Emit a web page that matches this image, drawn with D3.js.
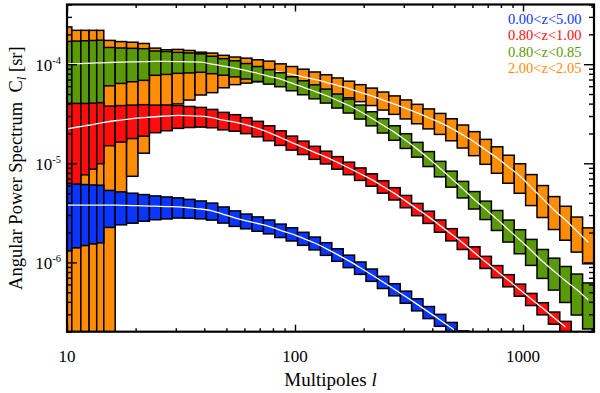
<!DOCTYPE html>
<html><head><meta charset="utf-8">
<script src="https://cdn.jsdelivr.net/npm/d3@7"></script>
<style>
body{margin:0;background:#fff}
text{font-family:"Liberation Serif","Times New Roman",Times,serif}
</style>
</head><body>
<svg id="chart" width="600" height="393" font-family="Liberation Serif, Times New Roman, serif"></svg>
<script>
// ---------- data ----------
const binEdges = [9.5, 10.5, 11.5, 12.5, 13.5, 14.5, 16.27, 18.25, 20.48, 22.98, 25.78, 28.93, 32.46, 36.42, 40.87, 45.85, 51.45, 57.72, 64.77, 72.67, 81.54, 91.49, 102.65, 115.18, 129.23, 145.0, 162.7, 182.5, 204.8, 229.8, 257.8, 289.3, 324.6, 364.2, 408.7, 458.5, 514.5, 577.2, 647.7, 726.7, 815.4, 914.9, 1026.5, 1151.8, 1292.3, 1450, 1627, 1825, 2048];

const seriesLabels = ["0.00<z<5.00", "0.80<z<1.00", "0.80<z<0.85", "2.00<z<2.05"];

const clBlue = [3.79e-6, 3.79e-6, 3.79e-6, 3.79e-6, 3.79e-6, 3.79e-6, 3.77e-6, 3.74e-6, 3.72e-6, 3.69e-6, 3.66e-6, 3.64e-6, 3.56e-6, 3.46e-6, 3.32e-6, 3.06e-6, 2.81e-6, 2.63e-6, 2.47e-6, 2.31e-6, 2.11e-6, 1.94e-6, 1.75e-6, 1.57e-6, 1.38e-6, 1.20e-6, 1.035e-6, 8.84e-7, 7.51e-7, 6.35e-7, 5.35e-7, 4.50e-7, 3.77e-7, 3.15e-7, 2.63e-7, 2.18e-7, 1.79e-7];
const errBlue = [0.655, 0.63, 0.61, 0.595, 0.585, 0.405, 0.365, 0.335, 0.30, 0.27, 0.25, 0.23, 0.215, 0.205, 0.195, 0.185, 0.178, 0.17, 0.165, 0.16, 0.155, 0.152, 0.15, 0.148, 0.146, 0.145, 0.144, 0.143, 0.142, 0.141, 0.14, 0.14, 0.139, 0.139, 0.138, 0.138, 0.138];

const clRed = [2.22e-5, 2.31e-5, 2.39e-5, 2.46e-5, 2.54e-5, 2.64e-5, 2.73e-5, 2.82e-5, 2.89e-5, 2.95e-5, 3.00e-5, 3.04e-5, 3.02e-5, 2.99e-5, 2.89e-5, 2.72e-5, 2.60e-5, 2.44e-5, 2.25e-5, 2.04e-5, 1.82e-5, 1.62e-5, 1.45e-5, 1.29e-5, 1.155e-5, 1.02e-5, 8.97e-6, 7.85e-6, 6.85e-6, 5.83e-6, 4.97e-6, 4.15e-6, 3.45e-6, 2.88e-6, 2.35e-6, 1.92e-6, 1.57e-6, 1.26e-6, 1.01e-6, 8.15e-7, 6.60e-7, 5.30e-7, 4.27e-7, 3.44e-7, 2.77e-7, 2.23e-7];
const errRed = [0.815, 0.74, 0.68, 0.645, 0.61, 0.43, 0.40, 0.37, 0.35, 0.31, 0.29, 0.26, 0.24, 0.225, 0.21, 0.20, 0.19, 0.184, 0.178, 0.172, 0.167, 0.161, 0.155, 0.150, 0.147, 0.145, 0.144, 0.144, 0.143, 0.143, 0.142, 0.142, 0.142, 0.141, 0.141, 0.141, 0.140, 0.140, 0.140, 0.140, 0.140, 0.140, 0.140, 0.140, 0.140, 0.140];

const clGreen = [1.005e-4, 1.012e-4, 1.019e-4, 1.026e-4, 1.033e-4, 1.040e-4, 1.048e-4, 1.055e-4, 1.060e-4, 1.065e-4, 1.065e-4, 1.062e-4, 1.057e-4, 1.050e-4, 1.002e-4, 9.55e-5, 9.13e-5, 8.62e-5, 8.08e-5, 7.55e-5, 7.06e-5, 6.43e-5, 5.86e-5, 5.33e-5, 4.83e-5, 4.30e-5, 3.83e-5, 3.33e-5, 2.85e-5, 2.42e-5, 2.05e-5, 1.70e-5, 1.39e-5, 1.12e-5, 8.88e-6, 7.04e-6, 5.52e-6, 4.32e-6, 3.43e-6, 2.72e-6, 2.14e-6, 1.68e-6, 1.32e-6, 1.02e-6, 8.15e-7, 6.52e-7, 5.29e-7, 4.17e-7];
const errGreen = [0.69, 0.69, 0.69, 0.69, 0.69, 0.418, 0.39, 0.37, 0.352, 0.275, 0.26, 0.239, 0.228, 0.211, 0.200, 0.190, 0.184, 0.178, 0.172, 0.167, 0.161, 0.161, 0.161, 0.161, 0.161, 0.161, 0.161, 0.161, 0.163, 0.165, 0.167, 0.169, 0.170, 0.172, 0.178, 0.184, 0.190, 0.200, 0.211, 0.228, 0.250, 0.272, 0.293, 0.324, 0.355, 0.395, 0.443, 0.489];

const clOrange = [8.64e-5, 8.64e-5, 8.64e-5, 8.64e-5, 8.64e-5, 8.64e-5, 8.66e-5, 8.70e-5, 8.72e-5, 8.80e-5, 8.90e-5, 9.03e-5, 9.05e-5, 9.05e-5, 9.05e-5, 9.03e-5, 9.01e-5, 8.97e-5, 8.86e-5, 8.74e-5, 8.32e-5, 7.89e-5, 7.45e-5, 7.01e-5, 6.57e-5, 6.10e-5, 5.66e-5, 5.20e-5, 4.78e-5, 4.34e-5, 3.95e-5, 3.58e-5, 3.22e-5, 2.88e-5, 2.57e-5, 2.25e-5, 1.93e-5, 1.64e-5, 1.36e-5, 1.13e-5, 9.18e-6, 7.44e-6, 5.72e-6, 4.40e-6, 3.38e-6, 2.68e-6, 2.07e-6, 1.60e-6];
const errOrange = [1.75, 1.54, 1.54, 1.54, 1.54, 1.01, 0.952, 0.915, 0.855, 0.65, 0.57, 0.56, 0.52, 0.46, 0.43, 0.36, 0.31, 0.282, 0.25, 0.228, 0.211, 0.2, 0.195, 0.19, 0.19, 0.19, 0.19, 0.195, 0.2, 0.206, 0.211, 0.217, 0.222, 0.228, 0.239, 0.25, 0.261, 0.272, 0.282, 0.298, 0.314, 0.33, 0.345, 0.355, 0.365, 0.375, 0.386, 0.395];

const xMajorTicks = [10, 100, 1000];
const xTickLabels = ["10", "100", "1000"];
const yMajorTicks = [1e-6, 1e-5, 1e-4];
const yTickExponents = ["-6", "-5", "-4"];

const colors = {blue: "#0a35ff", red: "#ff0d0d", green: "#5a9a08", orange: "#ff8c05"};

// ---------- layout ----------
const L = 67, R = 594, T = 4.5, B = 331.7;
const FONT = "Liberation Serif, Times New Roman, serif";
const svg = d3.select("#chart");
const x = d3.scaleLog().domain([10, 2048]).range([L, R]);
const y = d3.scaleLog().domain([2e-7, 4e-4]).range([B, T]);

svg.append("defs").append("clipPath").attr("id", "plotclip")
  .append("rect").attr("x", L).attr("y", T).attr("width", R - L).attr("height", B - T);

const plot = svg.append("g").attr("clip-path", "url(#plotclip)");

const series = [
  {cl: clOrange, err: errOrange, color: colors.orange},
  {cl: clGreen, err: errGreen, color: colors.green},
  {cl: clRed, err: errRed, color: colors.red},
  {cl: clBlue, err: errBlue, color: colors.blue}
];

const floorVal = 1e-8;
series.forEach(s => {
  const g = plot.append("g");
  const bins = s.cl.map((c, i) => ({
    lo: binEdges[i], hi: binEdges[i + 1], c: c, e: s.err[i]
  }));
  g.selectAll("rect").data(bins).enter().append("rect")
    .attr("x", d => x(Math.max(d.lo, 10)))
    .attr("width", d => x(Math.min(d.hi, 2048)) - x(Math.max(d.lo, 10)))
    .attr("y", d => y(d.c * (1 + d.e)))
    .attr("height", d => y(Math.max(d.c * (1 - d.e), floorVal)) - y(d.c * (1 + d.e)))
    .attr("fill", s.color)
    .attr("stroke", "#000")
    .attr("stroke-width", 1.5);
  const line = d3.line()
    .x(d => x(Math.sqrt(d.lo * d.hi)))
    .y(d => y(d.c))
    .curve(d3.curveMonotoneX);
  g.append("path").datum(bins).attr("d", line)
    .attr("fill", "none").attr("stroke", "#fff").attr("stroke-width", 1.3);
});

// ---------- axes ----------
const minorX = x.ticks().filter(v => xMajorTicks.indexOf(v) < 0);
const minorY = y.ticks().filter(v => !yMajorTicks.some(m => Math.abs(m - v) / m < 1e-6));

function styleAxis(g) {
  g.select(".domain").remove();
  g.selectAll(".tick line").attr("stroke", "#000").attr("stroke-width", 1.4);
  g.selectAll(".tick text").remove();
}
svg.append("g").attr("transform", `translate(0,${B})`)
  .call(d3.axisBottom(x).tickValues(xMajorTicks).tickSize(-7).tickFormat("")).call(styleAxis);
svg.append("g").attr("transform", `translate(0,${B})`)
  .call(d3.axisBottom(x).tickValues(minorX).tickSize(-3.5).tickFormat("")).call(styleAxis);
svg.append("g").attr("transform", `translate(0,${T})`)
  .call(d3.axisTop(x).tickValues(xMajorTicks).tickSize(-7).tickFormat("")).call(styleAxis);
svg.append("g").attr("transform", `translate(0,${T})`)
  .call(d3.axisTop(x).tickValues(minorX).tickSize(-3.5).tickFormat("")).call(styleAxis);
svg.append("g").attr("transform", `translate(${L},0)`)
  .call(d3.axisLeft(y).tickValues(yMajorTicks).tickSize(-10).tickFormat("")).call(styleAxis);
svg.append("g").attr("transform", `translate(${L},0)`)
  .call(d3.axisLeft(y).tickValues(minorY).tickSize(-5).tickFormat("")).call(styleAxis);
svg.append("g").attr("transform", `translate(${R},0)`)
  .call(d3.axisRight(y).tickValues(yMajorTicks).tickSize(-10).tickFormat("")).call(styleAxis);
svg.append("g").attr("transform", `translate(${R},0)`)
  .call(d3.axisRight(y).tickValues(minorY).tickSize(-5).tickFormat("")).call(styleAxis);

svg.append("rect").attr("x", L).attr("y", T).attr("width", R - L).attr("height", B - T)
  .attr("fill", "none").attr("stroke", "#000").attr("stroke-width", 2.2);

// tick labels
xMajorTicks.forEach((v, i) => {
  svg.append("text").attr("x", x(v)).attr("y", 362).attr("text-anchor", "middle")
    .attr("font-family", FONT).attr("font-size", 17).text(xTickLabels[i]);
});
yMajorTicks.forEach((v, i) => {
  const t = svg.append("text").attr("x", 61).attr("y", y(v) + 6.5).attr("text-anchor", "end")
    .attr("font-family", FONT).attr("font-size", 17);
  t.append("tspan").text("10");
  t.append("tspan").attr("font-size", 10.5).attr("dy", -7).text(yTickExponents[i]);
});

// axis titles
const xt = svg.append("text").attr("x", (L + R) / 2).attr("y", 386).attr("text-anchor", "middle")
  .attr("font-family", FONT).attr("font-size", 19);
xt.append("tspan").text("Multipoles ");
xt.append("tspan").attr("font-style", "italic").text("l");

const yt = svg.append("text").attr("transform", `translate(22,${(T + B) / 2}) rotate(-90)`)
  .attr("text-anchor", "middle").attr("font-family", FONT).attr("font-size", 18.5);
yt.append("tspan").text("Angular Power Spectrum\u00a0\u00a0C");
yt.append("tspan").attr("font-style", "italic").attr("font-size", 13).attr("dy", 4).text("l");
yt.append("tspan").attr("dy", -4).text(" [sr]");

// legend
const legendColors = [colors.blue, colors.red, colors.green, colors.orange];
seriesLabels.forEach((lab, i) => {
  svg.append("text").attr("x", 581.5).attr("y", 24 + i * 16.3).attr("text-anchor", "end")
    .attr("font-family", FONT).attr("font-size", 14.5).attr("fill", legendColors[i]).text(lab);
});
</script>
</body></html>
